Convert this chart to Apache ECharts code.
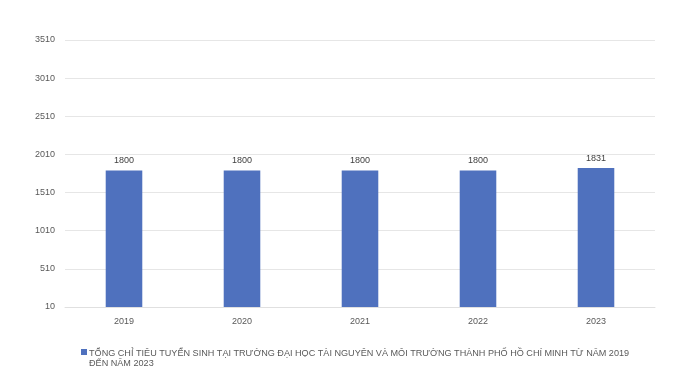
<!DOCTYPE html>
<html><head><meta charset="utf-8">
<script src="https://cdn.jsdelivr.net/npm/echarts@6/dist/echarts.min.js"></script>
<style>html,body{margin:0;padding:0;background:#fff}#c{width:700px;height:380px}</style>
</head><body><div id="c"></div>
<script>
const categories = ['2019','2020','2021','2022','2023'];
const values = [1800, 1800, 1800, 1800, 1831];
const seriesName = 'TỔNG CHỈ TIÊU TUYỂN SINH TẠI TRƯỜNG ĐẠI HỌC TÀI NGUYÊN VÀ MÔI TRƯỜNG THÀNH PHỐ HỒ CHÍ MINH TỪ NĂM 2019 ĐẾN NĂM 2023';
const yMin = 10, yMax = 3510, yStep = 500;

const chart = echarts.init(document.getElementById('c'));
chart.setOption({
  animation: false,
  textStyle: {fontFamily: 'Liberation Sans, Arial, sans-serif'},
  grid: {left: 65, right: 45, top: 40, bottom: 73},
  legend: {
    left: 76, top: 343, itemWidth: 6, itemHeight: 20, itemGap: 4,
    icon: 'path://M0,2L6,2L6,8L0,8Z M0,20L0.01,20L0.01,20.01Z',
    formatter: function(n){ return n.replace(' ĐẾN', '\nĐẾN'); },
    textStyle: {fontSize: 9.1, color: '#595959', lineHeight: 10, padding: [0,0,0,-3]}
  },
  xAxis: {
    type: 'category', data: categories,
    axisLine: {show: true, lineStyle: {color: '#e0e0e0'}},
    axisTick: {show: false},
    axisLabel: {color: '#595959', fontSize: 9, margin: 10}
  },
  yAxis: {
    type: 'value', min: yMin, max: yMax, interval: yStep,
    axisLine: {show: false}, axisTick: {show: false},
    axisLabel: {color: '#595959', fontSize: 9, margin: 10, formatter: function(v){ return String(v); }},
    splitLine: {lineStyle: {color: '#e6e6e6'}}
  },
  series: [{
    name: seriesName, type: 'bar', data: values, barWidth: '31%',
    itemStyle: {color: '#4f71be'},
    label: {show: true, position: 'top', color: '#404040', fontSize: 9, distance: 5}
  }]
});
</script></body></html>
